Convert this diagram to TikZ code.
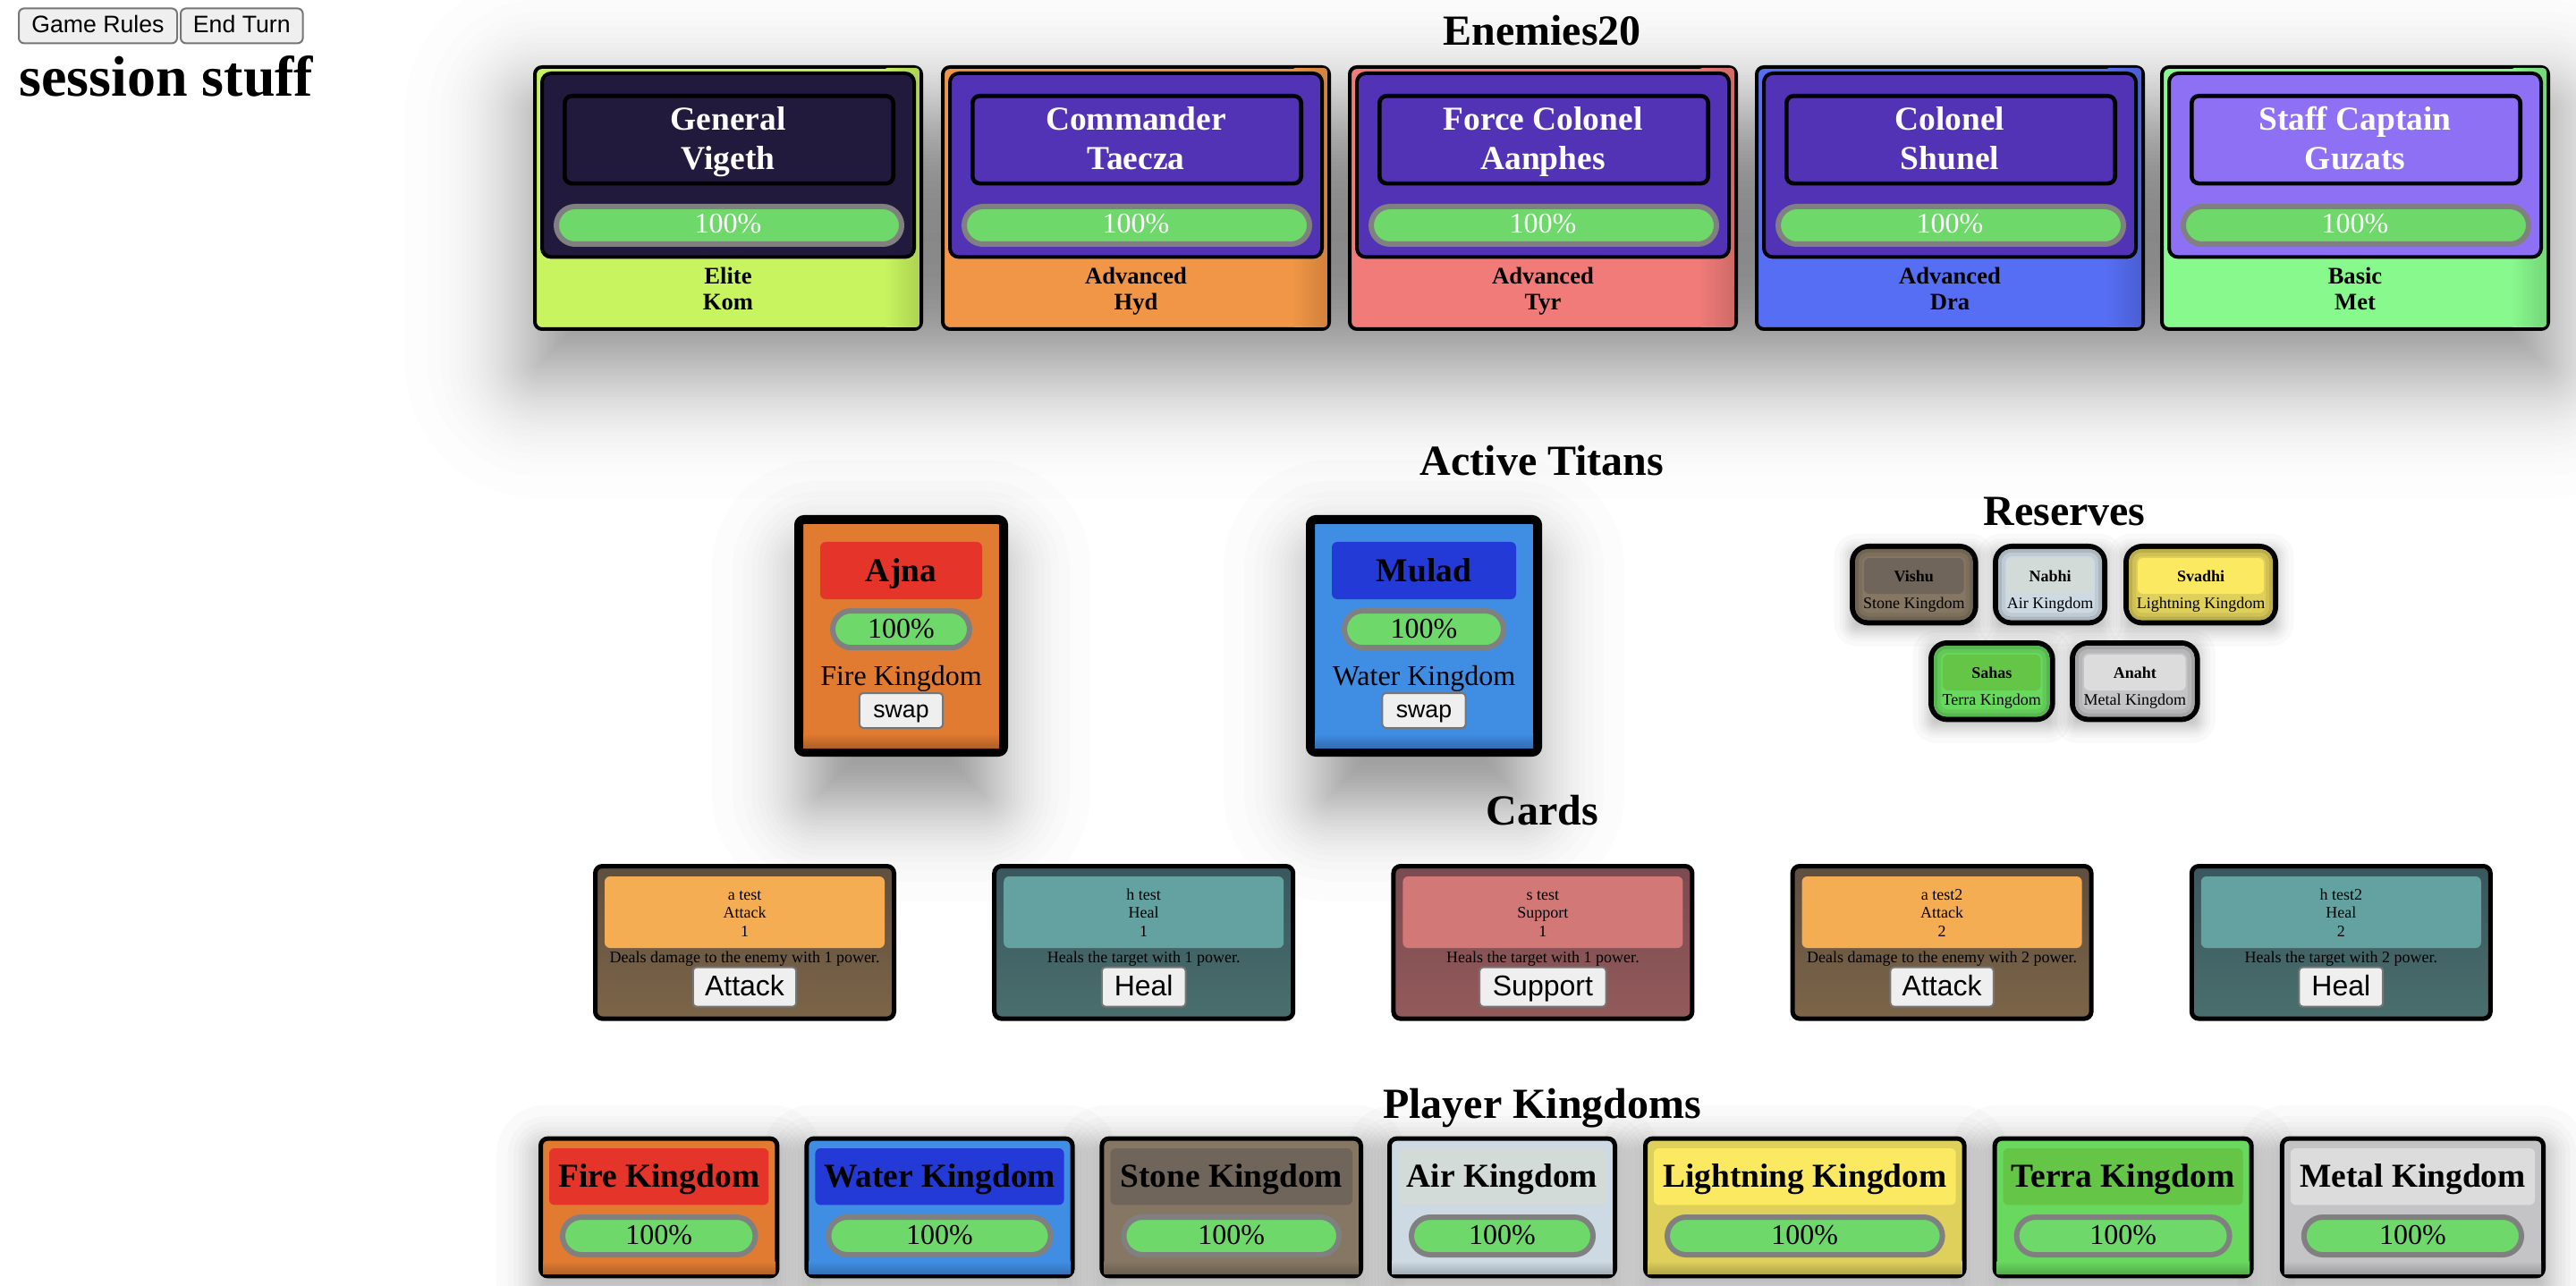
\documentclass[tikz,border=0pt]{standalone}
\usepackage{fontspec}
\setmainfont{Liberation Serif}
\newfontfamily\sansf{Liberation Sans}

\definecolor{elime}{HTML}{C8F55F}
\definecolor{enavy}{HTML}{211A3D}
\definecolor{eorange}{HTML}{F19646}
\definecolor{esalmon}{HTML}{F07B78}
\definecolor{eblue}{HTML}{566EF4}
\definecolor{egreen}{HTML}{88F98D}
\definecolor{epurple}{HTML}{5233B5}
\definecolor{elav}{HTML}{8E70F4}
\definecolor{hpgreen}{HTML}{6ED86A}
\definecolor{hpgray}{HTML}{808080}
\definecolor{btnbg}{HTML}{EFEFEF}
\definecolor{btnbd}{HTML}{767676}
\definecolor{kfire}{HTML}{E07B31}
\definecolor{kfiren}{HTML}{E5352A}
\definecolor{kwater}{HTML}{408EE3}
\definecolor{kwatern}{HTML}{233AD7}
\definecolor{kstone}{HTML}{857763}
\definecolor{kstonen}{HTML}{6F655A}
\definecolor{kair}{HTML}{CDD9E3}
\definecolor{kairn}{HTML}{D2DBD8}
\definecolor{klight}{HTML}{DFCF5B}
\definecolor{klightn}{HTML}{FBEA61}
\definecolor{kterra}{HTML}{69D85F}
\definecolor{kterran}{HTML}{64C547}
\definecolor{kmetal}{HTML}{C4C4C6}
\definecolor{kmetaln}{HTML}{DCDCDC}
\definecolor{catop}{HTML}{5F4F40}
\definecolor{cabot}{HTML}{7C6548}
\definecolor{cain}{HTML}{F4AD52}
\definecolor{chtop}{HTML}{3A575D}
\definecolor{chbot}{HTML}{4A6E6D}
\definecolor{chin}{HTML}{64A1A1}
\definecolor{cstop}{HTML}{7A4B51}
\definecolor{csbot}{HTML}{935A5A}
\definecolor{csin}{HTML}{D27877}

\newcommand\fsz[1]{\fontsize{#1}{#1}\selectfont}

% box node: name, x1, y1, x2, y2, line width, style, text (outer bounds given)
\newcommand\R[8]{\node[#7,line width=#6pt,minimum width={#4-(#2)-#6},minimum height={#5-(#3)-#6},inner sep=0pt,outer sep=0pt] (#1) at ({((#2)+(#4))/2},{((#3)+(#5))/2}) {#8};}
% text node on baseline: name, x, y, font, colour, text
\newcommand\T[6]{\node[anchor=base,inner sep=0pt,outer sep=0pt,text=#5,font=#4] (#1) at ({#2},{#3}) {#6};}
% soft (gaussian) shadow of stacked translucent rounded rectangles:
% x1 y1 x2 y2 dy sigma total-opacity steps
\newcommand\Shd[8]{%
 \pgfmathsetmacro\sha{1-(1-#7)^(1/#8)}%
 \pgfmathsetmacro\shc{min((#3)-(#1),(#4)-(#2))/2-2}%
 \foreach \i in {1,...,#8}{%
   \pgfmathsetmacro\pp{(\i-0.5)/#8}%
   \pgfmathsetmacro\qq{min(\pp,1-\pp)}%
   \pgfmathsetmacro\sht{sqrt(-2*ln(\qq))}%
   \pgfmathsetmacro\zz{\sht-(2.515517+0.802853*\sht+0.010328*\sht*\sht)/(1+1.432788*\sht+0.189269*\sht*\sht+0.001308*\sht*\sht*\sht)}%
   \pgfmathsetmacro\ee{max(-\shc,(\pp>0.5?1:-1)*#6*\zz)}%
   \pgfmathsetmacro\rc{max(1,4+\ee)}%
   \fill[black,opacity=\sha,rounded corners=\rc pt] ({#1-\ee},{#2-\ee+#5}) rectangle ({#3+\ee},{#4+\ee+#5});
 }}

\newcommand\Enemy[8]{%
\R{e#1}{#2}{36.5}{#2+218}{185}{2}{draw=black,fill=#3,rounded corners=4pt}{}
\shade[left color=#3,right color=#3!86!black,rounded corners=2pt] ({#2+196},{38}) rectangle ({#2+216},{183});
\R{e#1p}{#2+4}{40}{#2+214}{144.7}{2}{draw=black,fill=#4,rounded corners=5pt}{}
\R{e#1b}{#2+16.5}{52.5}{#2+202.5}{103.7}{2.3}{draw=black,fill=#4,rounded corners=4pt}{}
\T{e#1n1}{#2+109}{73}{\bfseries\fsz{18.72}}{white}{#5}
\T{e#1n2}{#2+109}{94.6}{\bfseries\fsz{18.72}}{white}{#6}
\R{e#1h}{#2+11.5}{114}{#2+207.5}{138}{3}{draw=hpgray,fill=hpgreen,rounded corners=10.5pt}{}
\T{e#1hp}{#2+109}{130.5}{\fsz{16}}{white}{100\%}
\T{e#1t}{#2+109}{158.6}{\bfseries\fsz{13.28}}{black}{#7}
\T{e#1k}{#2+109}{173.3}{\bfseries\fsz{13.28}}{black}{#8}
}

\newcommand\Titan[7]{%
\R{t#1}{#2}{288}{#3}{423}{5}{draw=black,fill=#4,rounded corners=3pt}{}
\shade[top color=#4,bottom color=#4!78!black] ({#2+5},{410}) rectangle ({#3-5},{418});
\R{t#1b}{#2+14.5}{303}{#3-14.5}{335}{0}{fill=#5,rounded corners=3pt}{}
\T{t#1n}{(#2+#3)/2}{325}{\bfseries\fsz{18.72}}{black}{#6}
\R{t#1h}{#2+20}{340}{#3-20}{363.6}{3}{draw=hpgray,fill=hpgreen,rounded corners=10.3pt}{}
\T{t#1hp}{(#2+#3)/2}{356.7}{\fsz{16}}{black}{100\%}
\T{t#1k}{(#2+#3)/2}{383}{\fsz{16}}{black}{#7}
\R{t#1s}{(#2+#3)/2-23.8}{387}{(#2+#3)/2+23.8}{407.5}{1}{draw=btnbd,fill=btnbg,rounded corners=2pt}{}
\T{t#1st}{(#2+#3)/2}{401.3}{\sansf\fsz{13.33}}{black}{swap}
}

\newcommand\Res[9]{%
\R{r#1}{#2}{#3}{#4}{#5}{3}{draw=black,fill=#6,rounded corners=9pt}{}
\draw[#6!84!black,line width=2pt,rounded corners=6pt] ({#2+4},{#3+4}) rectangle ({#4-4},{#5-4});
\draw[#6!93!black,line width=2pt,rounded corners=4.5pt] ({#2+6},{#3+6}) rectangle ({#4-6},{#5-6});
\R{r#1b}{#2+8}{#3+8}{#4-8}{#3+28}{0}{fill=#7,rounded corners=3pt}{}
\T{r#1n}{(#2+#4)/2}{#3+21}{\bfseries\fsz{9}}{black}{#8}
\T{r#1k}{(#2+#4)/2}{#3+36.3}{\fsz{9}}{black}{#9}
}

\newcommand\Card[9]{%
\R{c#1}{#2}{483}{#2+169.5}{570.8}{2.5}{draw=black,top color=#3,bottom color=#4,rounded corners=4pt}{}
\R{c#1b}{#2+6.5}{490}{#2+163}{530}{0}{fill=#5,rounded corners=3pt}{}
\T{c#1a}{#2+84.75}{503}{\fsz{9}}{black}{#6}
\T{c#1t}{#2+84.75}{513.3}{\fsz{9}}{black}{#7}
\T{c#1v}{#2+84.75}{523.6}{\fsz{9}}{black}{#8}
\T{c#1d}{#2+84.75}{538}{\fsz{9}}{black}{#9}
}
\newcommand\CardBtn[4]{%
\R{c#1btn}{#2+84.75-#4/2}{540.3}{#2+84.75+#4/2}{563.3}{1}{draw=btnbd,fill=btnbg,rounded corners=2pt}{}
\T{c#1bt}{#2+84.75}{556.7}{\sansf\fsz{16}}{black}{#3}
}

\newcommand\King[6]{%
\R{k#1}{#2}{635.3}{#3}{714.7}{2.5}{draw=black,fill=#4,rounded corners=4pt}{}
\shade[top color=#4,bottom color=#4!80!black] ({#2+2.5},{705}) rectangle ({#3-2.5},{712.2});
\R{k#1b}{#2+6}{642}{#3-6}{673.7}{0}{fill=#5,rounded corners=3pt}{}
\T{k#1n}{(#2+#3)/2}{663.7}{\bfseries\fsz{18.72}}{black}{#6}
\R{k#1h}{#2+12}{679}{#3-12}{703}{3}{draw=hpgray,fill=hpgreen,rounded corners=10.5pt}{}
\T{k#1hp}{(#2+#3)/2}{695.5}{\fsz{16}}{black}{100\%}
}

\tikzset{
 title/.style={font=\bfseries\fsz{24},anchor=base,inner sep=0pt},
}

\begin{document}
\begin{tikzpicture}[x=1pt,y=-1pt]
\fill[white] (0,0) rectangle (1440,719);
\useasboundingbox (0,0) rectangle (1440,719);

% soft shadows
\Shd{298}{36.5}{1425.5}{185}{22}{30}{0.38}{60}
\Shd{454}{288}{553.5}{423}{25}{25}{0.38}{40}
\Shd{740}{288}{852}{423}{25}{25}{0.38}{40}
\Shd{1034}{304}{1105.8}{349.7}{3}{5}{0.25}{12}
\Shd{1114}{304}{1178}{349.7}{3}{5}{0.25}{12}
\Shd{1187}{304}{1273.5}{349.7}{3}{5}{0.25}{12}
\Shd{1078}{358}{1148.8}{403.7}{3}{5}{0.25}{12}
\Shd{1157}{358}{1229.8}{403.7}{3}{5}{0.25}{12}
\foreach \a/\b in {301/435.7,449.7/600.8,614.7/762,775.5/904,918.5/1099.3,1113.8/1259.8,1274.4/1423}{\Shd{\a}{635.3}{\b}{714.7}{6}{12}{0.35}{20}}

% top left
\R{gr}{10}{4.2}{99.5}{24.7}{1}{draw=btnbd,fill=btnbg,rounded corners=3pt}{}
\T{grt}{54.75}{18.3}{\sansf\fsz{13.33}}{black}{Game Rules}
\R{et}{100.5}{4.2}{169.8}{24.7}{1}{draw=btnbd,fill=btnbg,rounded corners=3pt}{}
\T{ett}{135.15}{18.3}{\sansf\fsz{13.33}}{black}{End Turn}
\node[anchor=base west,inner sep=0pt,font=\bfseries\fsz{32}] (ss) at (10.5,54) {session stuff};

% titles
\node[title] (hen) at (862,25.5) {Enemies20};
\node[title] (hat) at (862,265.8) {Active Titans};
\node[title] (hre) at (1154,294) {Reserves};
\node[title] (hca) at (862,461) {Cards};
\node[title] (hpk) at (862,625) {Player Kingdoms};

% enemies
\Enemy{1}{298}{elime}{enavy}{General}{Vigeth}{Elite}{Kom}
\Enemy{2}{526}{eorange}{epurple}{Commander}{Taecza}{Advanced}{Hyd}
\Enemy{3}{753.5}{esalmon}{epurple}{Force Colonel}{Aanphes}{Advanced}{Tyr}
\Enemy{4}{981}{eblue}{epurple}{Colonel}{Shunel}{Advanced}{Dra}
\Enemy{5}{1207.5}{egreen}{elav}{Staff Captain}{Guzats}{Basic}{Met}

% titans
\Titan{1}{444}{563.5}{kfire}{kfiren}{Ajna}{Fire Kingdom}
\Titan{2}{730}{862}{kwater}{kwatern}{Mulad}{Water Kingdom}

% reserves
\Res{1}{1034}{304}{1105.8}{349.7}{kstone}{kstonen}{Vishu}{Stone Kingdom}
\Res{2}{1114}{304}{1178}{349.7}{kair}{kairn}{Nabhi}{Air Kingdom}
\Res{3}{1187}{304}{1273.5}{349.7}{klight}{klightn}{Svadhi}{Lightning Kingdom}
\Res{4}{1078}{358}{1148.8}{403.7}{kterra}{kterran}{Sahas}{Terra Kingdom}
\Res{5}{1157}{358}{1229.8}{403.7}{kmetal}{kmetaln}{Anaht}{Metal Kingdom}

% cards
\Card{1}{331.5}{catop}{cabot}{cain}{a test}{Attack}{1}{Deals damage to the enemy with 1 power.}
\CardBtn{1}{331.5}{Attack}{58.7}
\Card{2}{554.6}{chtop}{chbot}{chin}{h test}{Heal}{1}{Heals the target with 1 power.}
\CardBtn{2}{554.6}{Heal}{47.9}
\Card{3}{777.7}{cstop}{csbot}{csin}{s test}{Support}{1}{Heals the target with 1 power.}
\CardBtn{3}{777.7}{Support}{71.7}
\Card{4}{1000.8}{catop}{cabot}{cain}{a test2}{Attack}{2}{Deals damage to the enemy with 2 power.}
\CardBtn{4}{1000.8}{Attack}{58.7}
\Card{5}{1223.9}{chtop}{chbot}{chin}{h test2}{Heal}{2}{Heals the target with 2 power.}
\CardBtn{5}{1223.9}{Heal}{47.9}

% player kingdoms
\King{1}{301}{435.7}{kfire}{kfiren}{Fire Kingdom}
\King{2}{449.7}{600.8}{kwater}{kwatern}{Water Kingdom}
\King{3}{614.7}{762}{kstone}{kstonen}{Stone Kingdom}
\King{4}{775.5}{904}{kair}{kairn}{Air Kingdom}
\King{5}{918.5}{1099.3}{klight}{klightn}{Lightning Kingdom}
\King{6}{1113.8}{1259.8}{kterra}{kterran}{Terra Kingdom}
\King{7}{1274.4}{1423}{kmetal}{kmetaln}{Metal Kingdom}
\end{tikzpicture}
\end{document}
